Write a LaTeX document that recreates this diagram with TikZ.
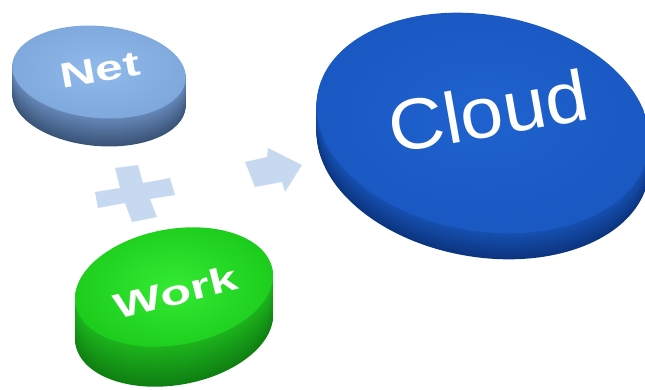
\documentclass[tikz,border=0pt]{standalone}
\usepackage{fontspec}
\setmainfont{Liberation Sans}
\definecolor{nettop}{HTML}{90BAEC}
\definecolor{netedge}{HTML}{7FA8DC}
\definecolor{netside}{HTML}{6687B8}
\definecolor{netdark}{HTML}{3A5478}
\definecolor{worktop}{HTML}{34EA34}
\definecolor{workedge}{HTML}{1CCC1C}
\definecolor{workside}{HTML}{1DB41D}
\definecolor{workdark}{HTML}{0F8012}
\definecolor{cloudtop}{HTML}{1F62CF}
\definecolor{cloudedge}{HTML}{1A58C2}
\definecolor{cloudside}{HTML}{1650B0}
\definecolor{clouddark}{HTML}{0C3580}
\definecolor{paleblue}{HTML}{C6D9F1}
\newcommand\mydisk[7]{%
  \foreach \k in {#6,...,1}{%
    \pgfmathsetmacro\p{100*\k/#6}%
    \fill[color=#7dark!\p!#7side, rotate around={#5:(#1,#2+\k)}] (#1,#2+\k) ellipse [x radius=#3pt, y radius=#4pt];
  }%
  \shade[inner color=#7top, outer color=#7edge, rotate around={#5:(#1,#2)}] (#1,#2) ellipse [x radius=#3pt, y radius=#4pt];
}
\tikzset{
  label3d/.style={text=white, inner sep=0pt, transform shape},
  shape2d/.style={fill=paleblue, draw=none}
}
\begin{document}
\begin{tikzpicture}[x=1pt,y=-1pt]
\useasboundingbox (0,0) rectangle (645,389);
% shapes
\fill[shape2d] (115,168) -- (138,165) -- (143,183) -- (170,178) -- (175,195) -- (150,199)
  -- (157,217) -- (132,222) -- (125,203) -- (98,208) -- (95,192) -- (120,188) -- cycle;
\fill[shape2d] (245,162) -- (267,157) -- (268,148) -- (302,165) -- (285,192) -- (282,182) -- (255,187) -- cycle;
% disks
\mydisk{99}{72}{87}{46}{-5}{28}{net}
\mydisk{174}{287}{100}{58}{10}{40}{work}
\mydisk{483}{123}{168}{108}{-10}{26}{cloud}
% labels
\node[label3d, font=\bfseries\fontsize{35}{35}\selectfont, rotate=10, xscale=1.42] (net) at (100,70) {Net};
\node[label3d, font=\bfseries\fontsize{35}{35}\selectfont, rotate=14, xscale=1.45] (work) at (176,292) {Work};
\node[label3d, font=\fontsize{72}{72}\selectfont, rotate=10, xscale=1.07] (cloud) at (488,111) {Cloud};
\end{tikzpicture}
\end{document}
